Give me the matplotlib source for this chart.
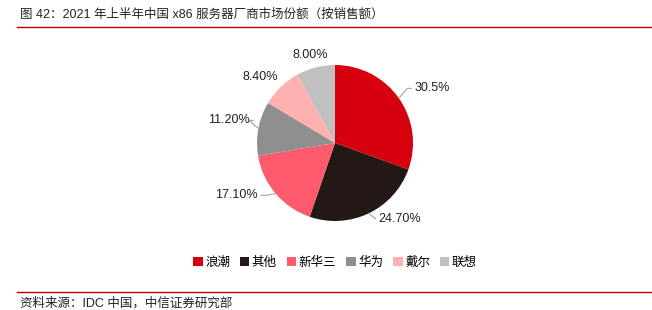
import matplotlib.pyplot as plt
import numpy as np
from matplotlib.patches import Patch

plt.rcParams['font.family'] = ['Liberation Sans', 'Noto Sans CJK SC']

# data
vendors = ['浪潮', '其他', '新华三', '华为', '戴尔', '联想']
shares = [30.5, 24.7, 17.1, 11.2, 8.4, 8.0]
share_labels = ['30.5%', '24.70%', '17.10%', '11.20%', '8.40%', '8.00%']
colors = ['#D7000F', '#231815', '#FF5A6E', '#8F8F8F', '#FFB0B0', '#C0C0C0']

W, H = 652, 310
fig = plt.figure(figsize=(W / 100, H / 100), dpi=100)

# pie axes: centre (335,143) px from top, radius 78 px
R = 78.0
cx, cy = 335, H - 143
bw, bh = 400, 240
ax = fig.add_axes([(cx - bw / 2) / W, (cy - bh / 2) / H, bw / W, bh / H])
wedges, _ = ax.pie(shares, colors=colors, startangle=90, counterclock=False,
                   radius=1.0, wedgeprops=dict(linewidth=0))
ax.set_xlim(-bw / 2 / R, bw / 2 / R)
ax.set_ylim(-bh / 2 / R, bh / 2 / R)
ax.set_aspect('equal')
ax.axis('off')

# label placement (in radius units relative to centre): text pos, ha, leader?
label_pos = [(1.02, 0.70, 'left', True),
             (0.55, -0.97, 'left', True),
             (-0.99, -0.67, 'right', True),
             (-1.09, 0.29, 'right', True),
             (-0.73, 0.85, 'right', False),
             (-0.32, 1.13, 'center', False)]
total = sum(shares)
cum = 0
for val, lab, (tx, ty, ha, lead) in zip(shares, share_labels, label_pos):
    mid = 90 - (cum + val / 2) / total * 360
    cum += val
    ex, ey = np.cos(np.radians(mid)), np.sin(np.radians(mid))
    if lead:
        lx = tx - 0.04 if ha == 'left' else tx + 0.04
        ax.plot([ex * 1.0, ex * 1.06 + (0.06 if ha == 'left' else -0.06), lx],
                [ey * 1.0, ty, ty], color='#A6A6A6', lw=0.8, clip_on=False)
    ax.text(tx, ty, lab, ha=ha, va='center', fontsize=9, color='#222222')

# legend
handles = [Patch(facecolor=c, edgecolor='none') for c in colors]
fig.legend(handles, vendors, loc='center', bbox_to_anchor=(cx / W, (H - 263) / H),
           ncol=6, frameon=False, fontsize=9, handlelength=0.75, handleheight=0.75,
           handletextpad=0.2, columnspacing=0.8)

# title and source
fig.text(20 / W, 1 - 15 / H, '图 42：2021 年上半年中国 x86 服务器厂商市场份额（按销售额）',
         fontsize=9, va='center', ha='left', color='#222222')
fig.add_artist(plt.Line2D([17 / W, 1], [1 - 27 / H, 1 - 27 / H], color='#C00000', lw=1.0))
fig.add_artist(plt.Line2D([17 / W, 1], [1 - 292 / H, 1 - 292 / H], color='#C00000', lw=1.0))
fig.text(20 / W, 1 - 303 / H, '资料来源：IDC 中国，中信证券研究部',
         fontsize=9, va='center', ha='left', color='#222222')

fig.savefig('out.png', dpi=100)
